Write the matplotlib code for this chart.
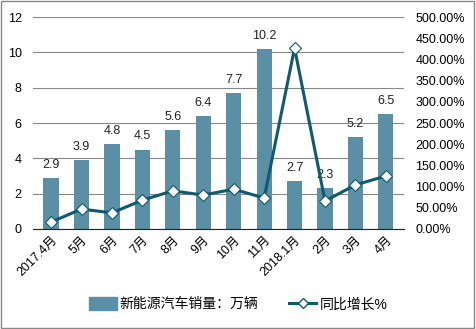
import matplotlib.pyplot as plt
import numpy as np
from matplotlib.patches import Rectangle
from matplotlib.lines import Line2D
from matplotlib.patches import Patch

plt.rcParams['font.family'] = ['Liberation Sans', 'Noto Sans CJK SC', 'DejaVu Sans']

months = ["2017.4月", "5月", "6月", "7月", "8月", "9月", "10月", "11月", "2018.1月", "2月", "3月", "4月"]
sales = [2.9, 3.9, 4.8, 4.5, 5.6, 6.4, 7.7, 10.2, 2.7, 2.3, 5.2, 6.5]
growth = [16.5, 47, 38, 68, 90, 80, 94, 73, 427, 66, 104, 125]

bar_color = "#5b8fa6"
line_color = "#0f5a6e"

fig = plt.figure(figsize=(4.76, 3.29), dpi=100)
ax = fig.add_axes([0.069, 0.304, 0.78, 0.644])
x = np.arange(len(months))

ax.bar(x, sales, width=0.5, color=bar_color, zorder=2)
for xi, v in zip(x, sales):
    ax.text(xi, v + 0.4, f"{v}", ha="center", va="bottom", fontsize=9, color="#222222")

ax.set_ylim(0, 12)
ax.set_yticks(range(0, 13, 2))
ax.set_xlim(-0.6, len(months) - 0.4)
ax.grid(axis="y", color="#888888", linewidth=0.8, zorder=0)
ax.set_axisbelow(True)
for s in ["left", "right", "top"]:
    ax.spines[s].set_visible(False)
ax.spines["bottom"].set_color("#222222")
ax.tick_params(axis="y", length=0, labelsize=9, pad=8)
ax.tick_params(axis="x", length=0, labelsize=9)
ax.set_xticks(x)
ax.set_xticklabels(months, rotation=45, ha="right", rotation_mode="anchor")

ax2 = ax.twinx()
ax2.plot(x, growth, color=line_color, linewidth=2.2, marker="D", markersize=6,
         markerfacecolor="white", markeredgecolor=line_color, markeredgewidth=0.8, zorder=3)
ax2.set_ylim(0, 500)
ax2.set_yticks(range(0, 501, 50))
ax2.set_yticklabels([f"{v:.2f}%" for v in range(0, 501, 50)])
ax2.tick_params(axis="y", length=0, labelsize=9, pad=8)
for s in ["left", "right", "top", "bottom"]:
    ax2.spines[s].set_visible(False)

handles = [Patch(color=bar_color),
           Line2D([0], [0], color=line_color, linewidth=2.2, marker="D", markersize=5,
                  markerfacecolor="white", markeredgecolor=line_color)]
fig.legend(handles, ["新能源汽车销量：万辆", "同比增长%"], loc="center", bbox_to_anchor=(0.5, 0.075),
           ncol=2, frameon=False, fontsize=10, handlelength=2.0, handleheight=1.0,
           handletextpad=0.2, columnspacing=2.2)

fig.patches.append(Rectangle((0.002, 0.003), 0.994, 0.993, transform=fig.transFigure,
                             fill=False, edgecolor="#888888", linewidth=1))

fig.savefig("out.png", dpi=100)
